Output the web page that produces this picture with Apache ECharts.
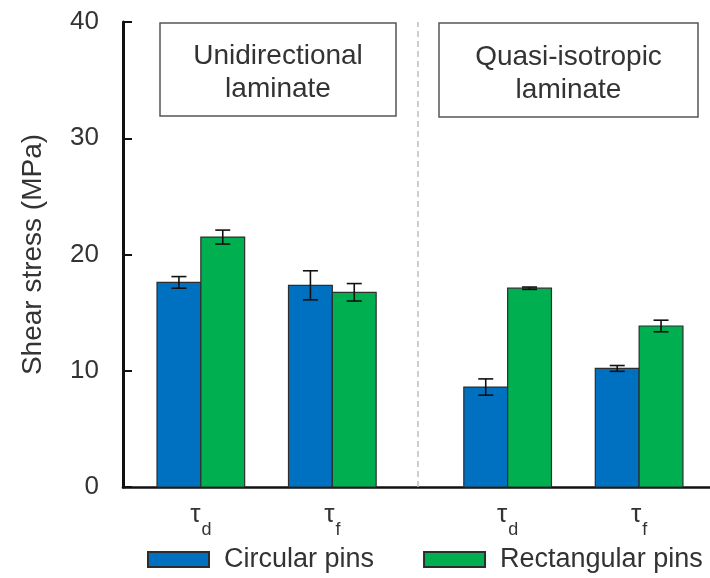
<!DOCTYPE html>
<html>
<head>
<meta charset="utf-8">
<script src="https://cdn.jsdelivr.net/npm/echarts@6/dist/echarts.min.js"></script>
<style>html,body{margin:0;padding:0;background:#fff}#c{width:710px;height:578px}</style>
</head>
<body>
<div id="c"></div>
<script>
// ---- data ----
var categories = ['τd', 'τf', 'τd', 'τf'];
var catMain = ['τ', 'τ', 'τ', 'τ'];
var catSub = ['d', 'f', 'd', 'f'];
var seriesNames = ['Circular pins', 'Rectangular pins'];
var circular = [17.6, 17.35, 8.6, 10.2];
var circularErr = [0.5, 1.25, 0.7, 0.25];
var rectangular = [21.5, 16.75, 17.1, 13.85];
var rectangularErr = [0.6, 0.75, 0.1, 0.5];
var yTicks = [0, 10, 20, 30, 40];
var groupTitles = ['Unidirectional\nlaminate', 'Quasi-isotropic\nlaminate'];

// ---- layout (slot units on a hidden value axis) ----
var groupX = [1, 4, 8, 11];
var colors = ['#0070C0', '#00B050'];
var FONT = '"Liberation Sans", Arial, sans-serif';

function buildData(vals, errs, side) {
  return vals.map(function (v, i) { return [groupX[i] + side * 0.5, v, errs[i]]; });
}

function renderBar(params, api) {
  var xc = api.value(0), v = api.value(1), e = api.value(2);
  var p0 = api.coord([xc - 0.5, v]);
  var p1 = api.coord([xc + 0.5, 0]);
  var pc = api.coord([xc, v]);
  var pt = api.coord([xc, v + e]);
  var pb = api.coord([xc, v - e]);
  var cap = 7.5;
  var color = api.visual('color');
  return {
    type: 'group',
    children: [
      { type: 'rect', shape: { x: p0[0], y: p0[1], width: p1[0] - p0[0], height: p1[1] - p0[1] },
        style: { fill: color, stroke: '#2d2d2d', lineWidth: 1.2 } },
      { type: 'line', shape: { x1: pc[0], y1: pt[1], x2: pc[0], y2: pb[1] }, style: { stroke: '#111', lineWidth: 1.6 } },
      { type: 'line', shape: { x1: pc[0] - cap, y1: pt[1], x2: pc[0] + cap, y2: pt[1] }, style: { stroke: '#111', lineWidth: 1.6 } },
      { type: 'line', shape: { x1: pc[0] - cap, y1: pb[1], x2: pc[0] + cap, y2: pb[1] }, style: { stroke: '#111', lineWidth: 1.6 } }
    ]
  };
}

var chart = echarts.init(document.getElementById('c'), null, { renderer: 'canvas' });
var option = {
  animation: false,
  backgroundColor: '#fff',
  textStyle: { fontFamily: FONT },
  grid: { left: 123, right: 0, top: 22, bottom: 91, containLabel: false },
  xAxis: {
    type: 'value', min: -0.776, max: 12.617,
    splitLine: { show: false },
    axisTick: { show: false },
    axisLine: { show: true, onZero: false, lineStyle: { color: '#111', width: 2.6 } },
    axisLabel: {
      customValues: groupX,
      margin: 15,
      formatter: function (val) {
        var i = groupX.indexOf(val);
        if (i < 0) return '';
        return '{t|' + catMain[i] + '}{s|' + catSub[i] + '}';
      },
      rich: {
        t: { fontSize: 26, fontFamily: FONT, color: '#333', verticalAlign: 'bottom', padding: [0, 1, 11, 0] },
        s: { fontSize: 18, fontFamily: FONT, color: '#333', verticalAlign: 'bottom' }
      }
    }
  },
  yAxis: {
    type: 'value', min: 0, max: 40, interval: 10,
    name: 'Shear stress (MPa)', nameLocation: 'middle', nameGap: 76,
    nameTextStyle: { fontSize: 28, color: '#333', fontFamily: FONT },
    splitLine: { show: false },
    axisLine: { show: true, onZero: false, lineStyle: { color: '#111', width: 3 } },
    axisTick: { show: true, inside: true, length: 9, lineStyle: { color: '#111', width: 2 } },
    axisLabel: {
      fontSize: 26, color: '#333', margin: 24, fontFamily: FONT,
      formatter: function (v) { return yTicks.indexOf(v) >= 0 ? String(v) : ''; }
    }
  },
  legend: {
    left: 142, top: 541, icon: 'rect', itemWidth: 61, itemHeight: 15, itemGap: 49,
    textStyle: { fontSize: 27, color: '#333', fontFamily: FONT, padding: [0, 0, 0, 10] },
    data: seriesNames
  },
  series: [
    {
      name: seriesNames[0], type: 'custom', renderItem: renderBar,
      itemStyle: { color: colors[0], borderColor: '#2d2d2d', borderWidth: 1.2 },
      encode: { x: 0, y: 1 },
      data: buildData(circular, circularErr, -1),
      markLine: {
        silent: true, symbol: ['none', 'none'], label: { show: false },
        lineStyle: { color: '#bdbdbd', type: [6, 4], width: 1.5 },
        data: [{ xAxis: 5.95 }]
      }
    },
    {
      name: seriesNames[1], type: 'custom', renderItem: renderBar,
      itemStyle: { color: colors[1], borderColor: '#2d2d2d', borderWidth: 1.2 },
      encode: { x: 0, y: 1 },
      data: buildData(rectangular, rectangularErr, 1)
    }
  ],
  graphic: [
    { type: 'rect', shape: { x: 160, y: 23, width: 236, height: 93 },
      style: { fill: '#fff', stroke: '#555', lineWidth: 1.5 }, z: 10 },
    { type: 'text', x: 278, y: 73, z: 11,
      style: { text: groupTitles[0], font: '28px ' + FONT, fill: '#333', align: 'center', verticalAlign: 'middle', lineHeight: 33 } },
    { type: 'rect', shape: { x: 439, y: 23, width: 259, height: 94 },
      style: { fill: '#fff', stroke: '#555', lineWidth: 1.5 }, z: 10 },
    { type: 'text', x: 568.5, y: 74, z: 11,
      style: { text: groupTitles[1], font: '28px ' + FONT, fill: '#333', align: 'center', verticalAlign: 'middle', lineHeight: 33 } }
  ]
};
chart.setOption(option);
</script>
</body>
</html>
